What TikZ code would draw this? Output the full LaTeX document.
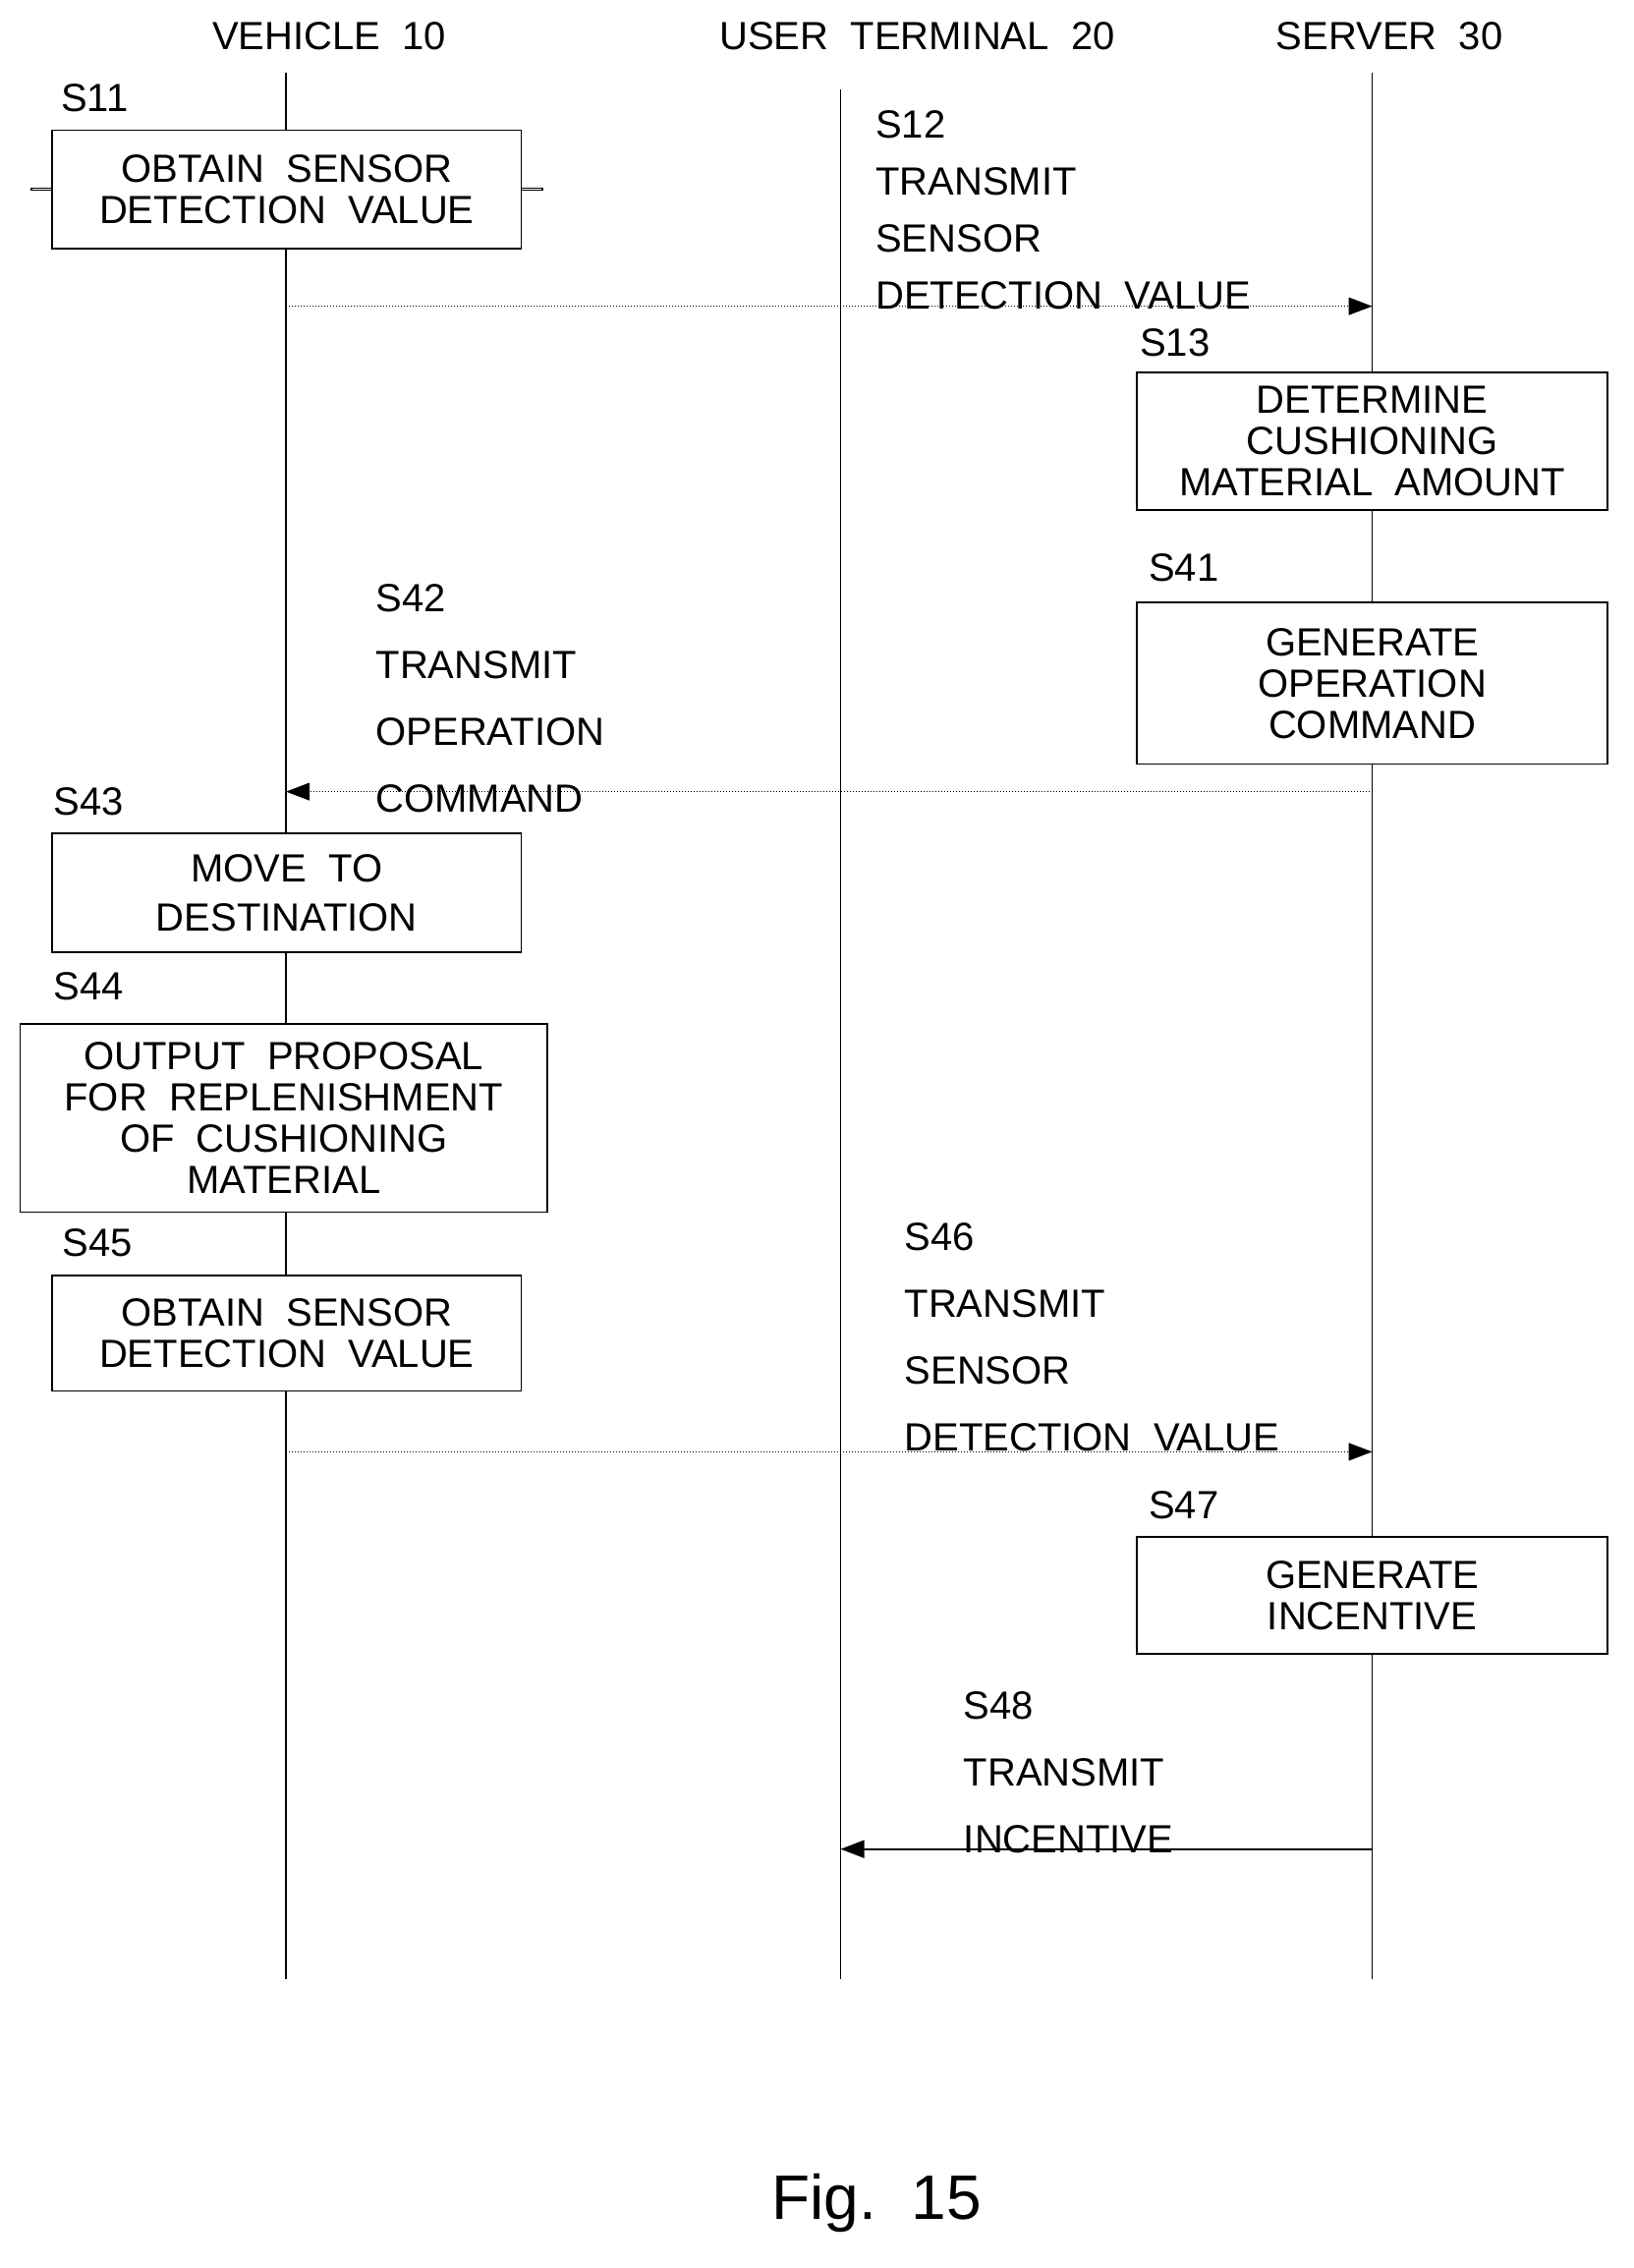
\documentclass[tikz,border=0pt]{standalone}
\usepackage{fontspec}
\setmainfont{Liberation Sans}
\usetikzlibrary{arrows.meta}
\begin{document}
\begin{tikzpicture}[x=0.735pt,y=-0.735pt,
 lab/.style={font=\fontsize{20}{25}\selectfont,align=left,inner sep=0pt},
 box/.style={draw,line width=0.8pt,font=\fontsize{20}{21}\selectfont,align=center,inner sep=0pt},
 life/.style={line width=0.9pt},
 msg/.style={line width=0.5pt,densely dotted,-{Triangle[length=12pt,width=9pt]}},
 smsg/.style={line width=0.9pt,-{Triangle[length=12pt,width=9pt]}}]
\useasboundingbox (0,0) rectangle (1131,1570);
\node[lab] (hv) at (228,25) {VEHICLE\ \ 10};
\node[lab] (hu) at (635,25) {USER\ \ TERMINAL\ \ 20};
\node[lab] (hs) at (962,25) {SERVER\ \ 30};
\coordinate (v1) at (198,50); \coordinate (v2) at (198,1370);
\coordinate (u1) at (582,62); \coordinate (u2) at (582,1370);
\coordinate (s1) at (950,50); \coordinate (s2) at (950,1370);
\draw[life] (v1)--(v2); \draw[life] (u1)--(u2); \draw[life] (s1)--(s2);
% boxes
\node[box,fill=white,minimum width=325\pgflinewidth] (b11) at (198.5,131) {};
\foreach \n/\xa/\ya/\xb/\yb/\t in {
 b11/36/90/361/172/{OBTAIN\ \ SENSOR\\DETECTION\ \ VALUE},
 b13/787/258/1113/353/{DETERMINE\\CUSHIONING\\MATERIAL\ \ AMOUNT},
 b41/787/417/1113/529/{GENERATE\\OPERATION\\COMMAND},
 b43/36/577/361/659/{MOVE\ \ TO\\[4pt]DESTINATION},
 b44/14/709/379/839/{OUTPUT\ \ PROPOSAL\\FOR\ \ REPLENISHMENT\\OF\ \ CUSHIONING\\MATERIAL},
 b45/36/883/361/963/{OBTAIN\ \ SENSOR\\DETECTION\ \ VALUE},
 b47/787/1064/1113/1145/{GENERATE\\INCENTIVE}}{
 \draw[line width=0.8pt,fill=white] (\xa,\ya) rectangle (\xb,\yb);
 \node[box,draw=none] (\n) at ({(\xa+\xb)/2},{(\ya+\yb)/2}) {\t};
}
\node[lab,anchor=west] (l11) at (42,68) {S11};
\node[lab,anchor=west] (l13) at (789,237) {S13};
\node[lab,anchor=west] (l41) at (795,393) {S41};
\node[lab,anchor=west] (l43) at (37,555) {S43};
\node[lab,anchor=west] (l44) at (37,683) {S44};
\node[lab,anchor=west] (l45) at (43,860) {S45};
\node[lab,anchor=west] (l47) at (795,1042) {S47};
% messages
\coordinate (m12a) at (198,212); \coordinate (m12b) at (950,212);
\draw[msg] (m12a)--(m12b);
\node[lab,anchor=north west,font=\fontsize{20}{29}\selectfont] (t12) at (606,76) {S12\\TRANSMIT\\SENSOR\\DETECTION\ \ VALUE};
\coordinate (m42a) at (950,548); \coordinate (m42b) at (198,548);
\draw[msg] (m42a)--(m42b);
\node[lab,anchor=north west,font=\fontsize{20}{34}\selectfont] (t42) at (260,404) {S42\\TRANSMIT\\OPERATION\\COMMAND};
\coordinate (m46a) at (198,1005); \coordinate (m46b) at (950,1005);
\draw[msg] (m46a)--(m46b);
\node[lab,anchor=north west,font=\fontsize{20}{34}\selectfont] (t46) at (626,846) {S46\\TRANSMIT\\SENSOR\\DETECTION\ \ VALUE};
\coordinate (m48a) at (950,1280); \coordinate (m48b) at (582,1280);
\draw[smsg] (m48a)--(m48b);
\node[lab,anchor=north west,font=\fontsize{20}{34}\selectfont] (t48) at (667,1171) {S48\\TRANSMIT\\INCENTIVE};
\node[lab,font=\fontsize{32}{36}\selectfont] (fig) at (607,1525) {Fig.\ \ 15};
\end{tikzpicture}
\end{document}
